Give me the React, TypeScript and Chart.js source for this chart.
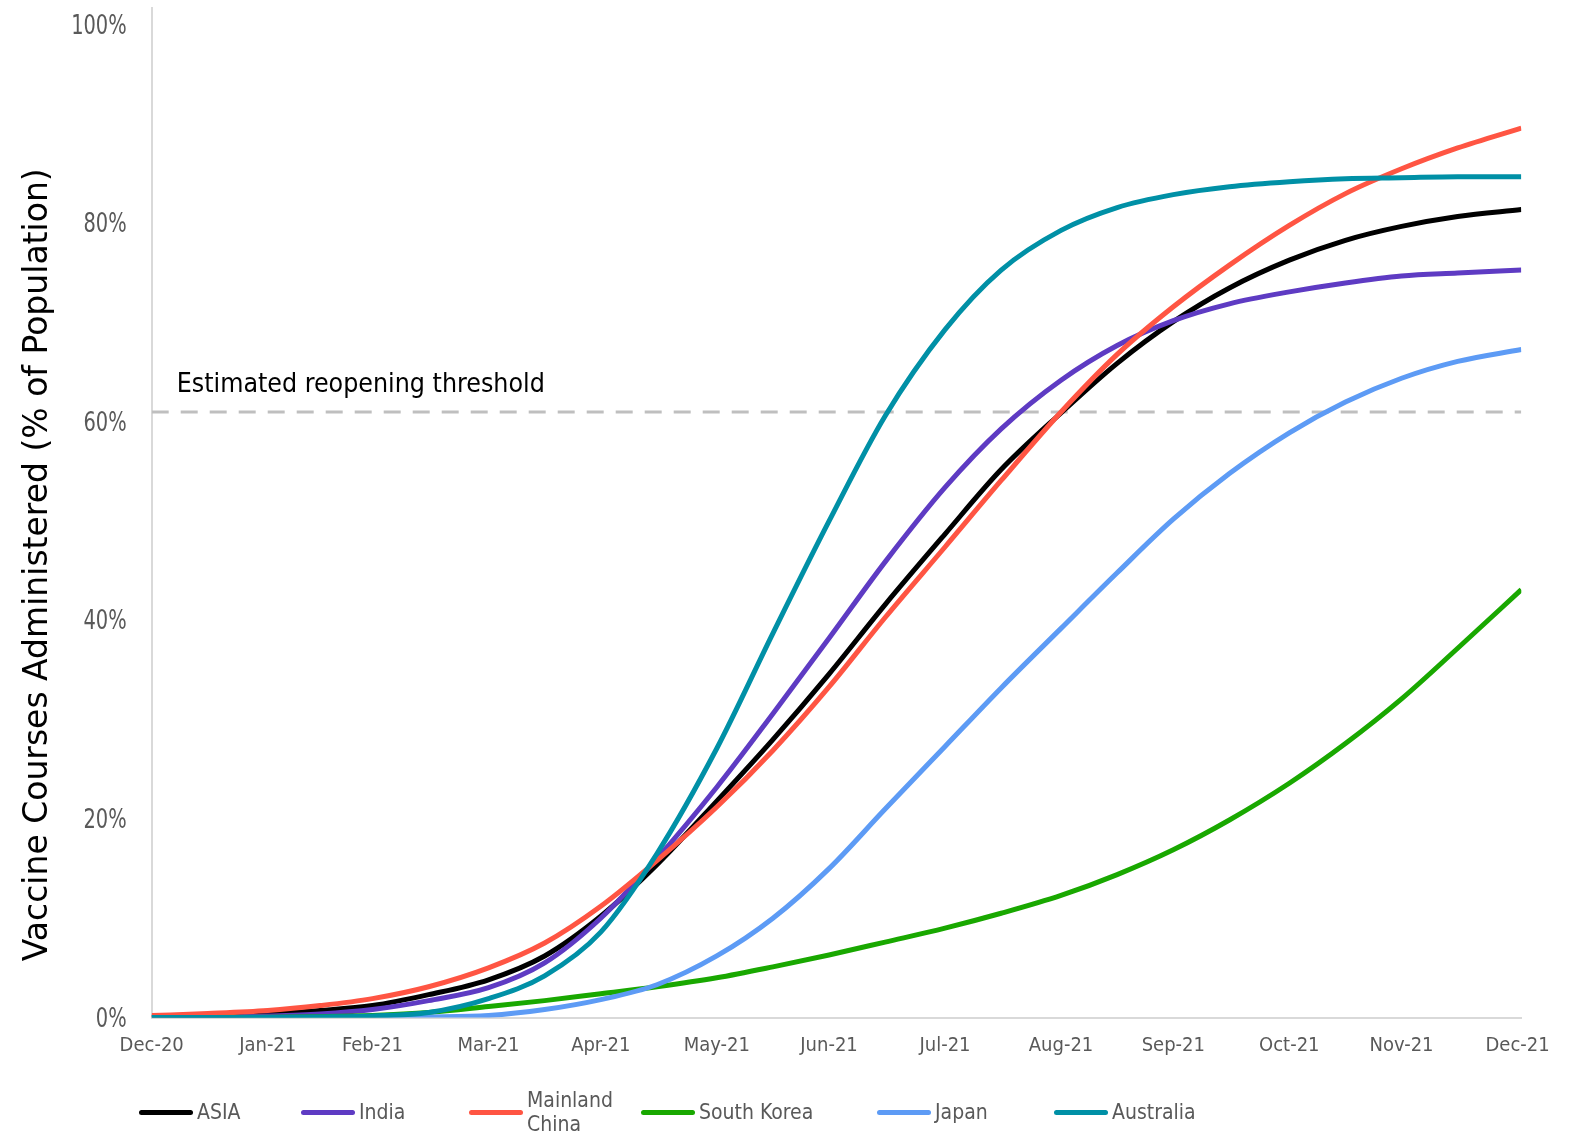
import React, { useEffect, useRef } from "react";
import { Chart, registerables } from "chart.js";

Chart.register(...registerables);

// Days counted from the end of December 2020; each month label sits on its month-end day.
const MONTH_TICK_DAYS = [0, 31, 59, 90, 120, 151, 181, 212, 243, 273, 304, 334, 365];
const MONTH_TICK_LABELS = [
  "Dec-20", "Jan-21", "Feb-21", "Mar-21", "Apr-21", "May-21", "Jun-21",
  "Jul-21", "Aug-21", "Sep-21", "Oct-21", "Nov-21", "Dec-21",
];
const Y_TICKS = [0, 20, 40, 60, 80, 100];

// Sample days for every series
const DAYS = [0, 15, 31, 45, 59, 74, 90, 105, 120, 135, 151, 166, 181, 196, 212, 227, 243, 258, 273, 288, 304, 319, 334, 349, 366];

// Share of population with a full vaccine course (%)
const ASIA = [0.05, 0.15, 0.35, 0.7, 1.2, 2.3, 3.8, 6.2, 10.2, 15.4, 21.8, 28.0, 34.6, 41.6, 48.7, 55.2, 60.9, 65.9, 70.1, 73.5, 76.3, 78.3, 79.7, 80.7, 81.4];
const INDIA = [0, 0.05, 0.15, 0.35, 0.8, 1.7, 3.0, 5.5, 10.0, 16.0, 23.2, 30.6, 38.2, 45.9, 53.4, 59.3, 64.2, 67.7, 70.2, 71.9, 73.1, 74.0, 74.7, 75.0, 75.3];
const MAINLAND_CHINA = [0.2, 0.4, 0.7, 1.2, 1.9, 3.1, 5.0, 7.5, 11.2, 15.8, 21.2, 26.9, 33.3, 40.3, 47.4, 54.1, 61.0, 66.8, 71.6, 75.8, 79.8, 83.0, 85.5, 87.6, 89.6];
const SOUTH_KOREA = [0, 0, 0.02, 0.08, 0.2, 0.5, 1.1, 1.7, 2.4, 3.1, 4.0, 5.1, 6.3, 7.6, 9.0, 10.5, 12.3, 14.4, 16.9, 19.9, 23.6, 27.6, 32.1, 37.2, 43.1];
const JAPAN = [0, 0, 0, 0, 0, 0.05, 0.2, 0.8, 1.8, 3.3, 6.2, 10.0, 15.0, 21.0, 27.3, 33.2, 39.2, 44.8, 50.2, 54.8, 58.9, 62.0, 64.4, 66.1, 67.3];
const AUSTRALIA = [0, 0, 0, 0.05, 0.15, 0.5, 1.9, 4.2, 8.6, 16.5, 27.1, 38.7, 50.0, 60.6, 69.3, 75.3, 79.3, 81.6, 82.9, 83.7, 84.2, 84.5, 84.6, 84.7, 84.7];

const SERIES_NAMES = ["ASIA", "India", "Mainland China", "South Korea", "Japan", "Australia"];
const SERIES_VALUES = [ASIA, INDIA, MAINLAND_CHINA, SOUTH_KOREA, JAPAN, AUSTRALIA];
const SERIES_COLORS = ["#000000", "#5E3BC3", "#FF5543", "#19A800", "#5D9BF5", "#0090A6"];

const THRESHOLD = 61;
const THRESHOLD_LABEL = "Estimated reopening threshold";
const Y_TITLE = "Vaccine Courses Administered (% of Population)";

const WIDTH = 1575;
const HEIGHT = 1136;

// Legend entries: left offset of each swatch
const LEGEND_LEFT = [139, 301, 469, 641, 877, 1054];

const TICK_FONT = '"DejaVu Sans Condensed", "DejaVu Sans", sans-serif';

const textPlugin = {
  id: "chartText",
  afterDraw(chart: any) {
    const { ctx, chartArea, scales } = chart;
    const yScale = scales.y;

    // y tick labels, narrow face
    ctx.save();
    ctx.fillStyle = "#595959";
    ctx.font = `27px ${TICK_FONT}`;
    ctx.textAlign = "right";
    ctx.textBaseline = "middle";
    for (const v of Y_TICKS) {
      const y = yScale.getPixelForValue(v) + 2;
      ctx.save();
      ctx.translate(chartArea.left - 25, y);
      ctx.scale(0.8, 1);
      ctx.fillText(`${v}%`, 0, 0);
      ctx.restore();
    }
    ctx.restore();

    ctx.save();
    // threshold caption
    ctx.fillStyle = "#000000";
    ctx.font = `26.5px ${TICK_FONT}`;
    ctx.textAlign = "left";
    ctx.textBaseline = "middle";
    ctx.fillText(THRESHOLD_LABEL, chartArea.left + 25, yScale.getPixelForValue(THRESHOLD) - 27);
    // rotated y-axis title
    ctx.translate(38, (chartArea.top + chartArea.bottom) / 2 + 52);
    ctx.rotate(-Math.PI / 2);
    ctx.font = '33px "DejaVu Sans", sans-serif';
    ctx.textAlign = "center";
    ctx.textBaseline = "middle";
    ctx.fillText(Y_TITLE, 0, 0);
    ctx.restore();
  },
};

export default function App() {
  const canvasRef = useRef<HTMLCanvasElement | null>(null);

  useEffect(() => {
    if (!canvasRef.current) return;
    const datasets: any[] = SERIES_NAMES.map((name, i) => ({
      label: name,
      data: DAYS.map((d, j) => ({ x: d, y: SERIES_VALUES[i][j] })),
      borderColor: SERIES_COLORS[i],
      backgroundColor: SERIES_COLORS[i],
      borderWidth: 5,
      pointRadius: 0,
      cubicInterpolationMode: "monotone",
      borderJoinStyle: "round",
      fill: false,
      order: SERIES_NAMES.length - i,
    }));
    datasets.push({
      label: "threshold",
      data: [
        { x: 0, y: THRESHOLD },
        { x: 366, y: THRESHOLD },
      ],
      borderColor: "#BFBFBF",
      borderWidth: 3,
      borderDash: [17, 12],
      pointRadius: 0,
      fill: false,
      order: 20,
    });

    const chart = new Chart(canvasRef.current, {
      type: "line",
      data: { datasets },
      plugins: [textPlugin],
      options: {
        animation: false,
        responsive: false,
        maintainAspectRatio: false,
        layout: { padding: { top: 8, right: 53.7, bottom: 0, left: 0 } },
        plugins: { legend: { display: false }, tooltip: { enabled: false } },
        scales: {
          x: {
            type: "linear",
            min: 0,
            max: 366,
            grid: { display: false, drawTicks: false },
            border: { display: true, color: "#D9D9D9", width: 2 },
            afterBuildTicks: (scale: any) => {
              scale.ticks = MONTH_TICK_DAYS.map((v) => ({ value: v }));
            },
            afterFit: (scale: any) => {
              scale.height = 118.5;
              scale.paddingLeft = 0;
              scale.paddingRight = 0;
            },
            ticks: {
              autoSkip: false,
              maxRotation: 0,
              minRotation: 0,
              padding: 16,
              color: "#595959",
              font: { family: TICK_FONT, size: 20 },
              callback: (_v: any, i: number) => MONTH_TICK_LABELS[i],
            },
          },
          y: {
            type: "linear",
            min: 0,
            max: 101.7,
            grid: { display: false, drawTicks: false },
            border: { display: true, color: "#D9D9D9", width: 2 },
            afterBuildTicks: (scale: any) => {
              scale.ticks = Y_TICKS.map((v) => ({ value: v }));
            },
            afterFit: (scale: any) => {
              scale.width = 151.7;
              scale.paddingTop = 0;
              scale.paddingBottom = 0;
            },
            ticks: { display: false },
          },
        },
      },
    } as any);
    return () => chart.destroy();
  }, []);

  return (
    <div style={{ position: "absolute", left: 0, top: 0, width: WIDTH, height: HEIGHT, background: "#ffffff" }}>
      <canvas ref={canvasRef} width={WIDTH} height={HEIGHT} style={{ width: WIDTH, height: HEIGHT, display: "block" }} />
      {SERIES_NAMES.map((name, i) => (
        <div
          key={name}
          style={{
            position: "absolute",
            left: LEGEND_LEFT[i],
            top: 1112,
            transform: "translateY(-50%)",
            display: "flex",
            alignItems: "center",
            fontFamily: TICK_FONT,
            fontSize: 21,
            lineHeight: "24px",
            color: "#595959",
          }}
        >
          <span style={{ display: "inline-block", width: 54, height: 5, borderRadius: 3, background: SERIES_COLORS[i], marginRight: 4 }} />
          <span style={{ whiteSpace: "pre-line" }}>{name === "Mainland China" ? "Mainland\nChina" : name}</span>
        </div>
      ))}
    </div>
  );
}
